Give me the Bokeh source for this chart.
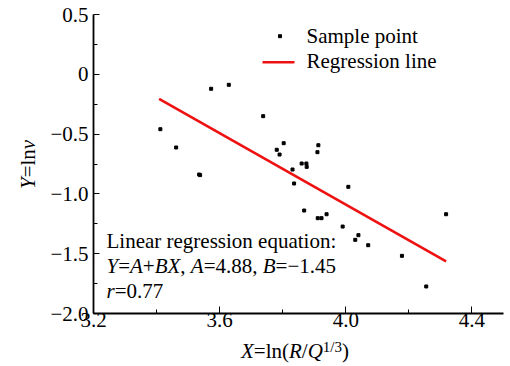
import math
from bokeh.plotting import figure
from bokeh.models import Range1d, FixedTicker, Label, Div
from bokeh.layouts import row, column
from bokeh.embed import file_html
from bokeh.resources import INLINE

# ---------------- data ----------------
x_vals = [3.412, 3.462, 3.535, 3.538, 3.573, 3.629, 3.738, 3.781, 3.790, 3.803,
          3.831, 3.836, 3.860, 3.875, 3.876, 3.868, 3.910, 3.913, 3.911, 3.923,
          3.939, 3.990, 4.008, 4.030, 4.040, 4.071, 4.178, 4.255, 4.318]
y_vals = [-0.459, -0.612, -0.838, -0.843, -0.121, -0.088, -0.350, -0.631, -0.671, -0.576,
          -0.796, -0.913, -0.746, -0.746, -0.774, -1.139, -0.651, -0.593, -1.203, -1.203,
          -1.170, -1.273, -0.941, -1.384, -1.345, -1.429, -1.518, -1.774, -1.170]
line_x = [3.408, 4.318]
line_y = [-0.205, -1.565]

x_ticks = [3.2, 3.6, 4.0, 4.4]
x_minor = [3.4, 3.8, 4.2]
x_tick_labels = ["3.2", "3.6", "4.0", "4.4"]
y_ticks = [0.5, 0.0, -0.5, -1.0, -1.5, -2.0]
y_minor = [0.25, -0.25, -0.75, -1.25, -1.75]
y_tick_labels = ["0.5", "0", "\u22120.5", "\u22121.0", "\u22121.5", "\u22122.0"]

legend_labels = ["Sample point", "Regression line"]
eq_title = "Linear regression equation:"
eq_A = "4.88"
eq_B = "\u22121.45"
eq_r = "0.77"

# ---------------- layout (page pixels) ----------------
W, H = 510, 366
YDIV_W = 40            # column holding the y title
PH = 342               # plot height; x title sits below
FL, FR, FT, FB = 93, 503, 14, 313
X0, X1 = 3.2, 4.5
Y0, Y1 = -2.0, 0.5
FONT = "Liberation Serif"
FS = 21
LABEL_SHIFT = 7        # Bokeh draws label text a little low; compensate


def dx(px):
    return X0 + (px - FL) * (X1 - X0) / (FR - FL)


def dy(py):
    return Y1 - (py - FT) * (Y1 - Y0) / (FB - FT)


ROMAN = {' ': 250, '(': 333, ')': 333, '+': 564, ',': 250, '.': 250, '/': 278,
         ':': 278, '=': 564, '\u2212': 564, 'l': 278, 'n': 500}
for d in "0123456789":
    ROMAN[d] = 500
ITALIC = {'A': 611, 'B': 611, 'Q': 722, 'R': 611, 'X': 611, 'Y': 556, 'r': 389, 'v': 444}


def width(text, italic, size):
    tbl = ITALIC if italic else ROMAN
    return sum(tbl.get(c, 500) for c in text) / 1000.0 * size


p = figure(width=W - YDIV_W, height=PH, output_backend="svg", toolbar_location=None,
           x_range=Range1d(X0, X1), y_range=Range1d(Y0, Y1),
           min_border_left=FL - YDIV_W, min_border_right=W - FR,
           min_border_top=FT, min_border_bottom=PH - FB, margin=0)
p.background_fill_color = "white"
p.border_fill_color = "white"
p.outline_line_color = None
p.xgrid.visible = False
p.ygrid.visible = False

for ax, ticks, minor, labels, tin, standoff in (
        (p.xaxis[0], x_ticks, x_minor, x_tick_labels, 7, -1),
        (p.yaxis[0], y_ticks, y_minor, y_tick_labels, 6, 5)):
    ax.ticker = FixedTicker(ticks=ticks, minor_ticks=minor)
    ax.major_label_overrides = {t: l for t, l in zip(ticks, labels)}
    ax.major_label_text_font = FONT
    ax.major_label_text_font_size = f"{FS}px"
    ax.major_label_text_color = "black"
    ax.major_label_standoff = standoff
    ax.major_tick_in = tin
    ax.major_tick_out = 0
    ax.minor_tick_in = 4
    ax.minor_tick_out = 0
    ax.axis_line_width = 1.8
    ax.axis_line_color = "black"
    ax.major_tick_line_color = "black"
    ax.minor_tick_line_color = "black"

# points and regression line
p.scatter(x_vals, y_vals, marker="square", size=3, color="black")
p.line(line_x, line_y, line_color="#ee1111", line_width=2.6)

# legend (drawn manually)
p.scatter([dx(279.5)], [dy(35.7)], marker="square", size=3, color="black")
p.line([dx(262), dx(294)], [dy(61.7), dy(61.7)], line_color="#ee1111", line_width=2.6)


def label(text, px, py, size=FS, italic=False):
    # screen units are measured from the frame's bottom-left corner
    p.add_layout(Label(x=px - FL, y=FB - py + LABEL_SHIFT, x_units="screen", y_units="screen",
                       text=text, text_font=FONT, text_font_size=f"{size}px",
                       text_font_style="italic" if italic else "normal",
                       text_color="black", text_baseline="alphabetic",
                       text_align="left"))


def rich(segs, px, py):
    pos = 0.0
    for text, italic, size, rise in segs:
        label(text, px + pos, py - rise, size, italic)
        pos += width(text, italic, size)


label(legend_labels[0], 306, 42)
label(legend_labels[1], 306, 67.5)

# equation text
label(eq_title, 106, 247)
rich([("Y", True, FS, 0), ("=", False, FS, 0), ("A", True, FS, 0), ("+", False, FS, 0),
      ("BX", True, FS, 0), (", ", False, FS, 0), ("A", True, FS, 0),
      ("=" + eq_A + ", ", False, FS, 0), ("B", True, FS, 0), ("=" + eq_B, False, FS, 0)],
     106, 272)
rich([("r", True, FS, 0), ("=" + eq_r, False, FS, 0)], 106, 297)

# axis titles as HTML (mixed italic / superscript)
LH = 24
ASC = 0.891 * FS + (LH - 1.107 * FS) / 2   # baseline distance from top of the line box
font_css = (f"font-family:'{FONT}'; font-size:{FS}px; line-height:{LH}px; "
            f"color:black; white-space:nowrap; font-weight:normal;")

x_title_html = ('<i>X</i>=ln(<i>R</i>/<i>Q</i>'
                '<span style="position:relative; top:-6px; font-size:15px;">1/3</span>)')
y_title_html = '<i>Y</i>=ln<i>v</i>'

xdiv = Div(width=W, height=H - PH, margin=0, text=(
    f'<div style="position:relative; width:{W}px; height:{H - PH}px;">'
    f'<div style="position:absolute; left:241px; top:{358.5 - PH - ASC:.1f}px; {font_css}">'
    f'{x_title_html}</div></div>'))

ydiv = Div(width=YDIV_W, height=PH, margin=0, text=(
    f'<div style="position:relative; width:{YDIV_W}px; height:{PH}px;">'
    f'<div style="position:absolute; left:{35 - ASC:.1f}px; top:189px; '
    f'transform:rotate(-90deg); transform-origin:0 0; {font_css}">'
    f'{y_title_html}</div></div>'))

layout = column(row(ydiv, p, spacing=0, margin=0), xdiv, spacing=0, margin=0)

open("out.html", "w").write(file_html(layout, INLINE))
